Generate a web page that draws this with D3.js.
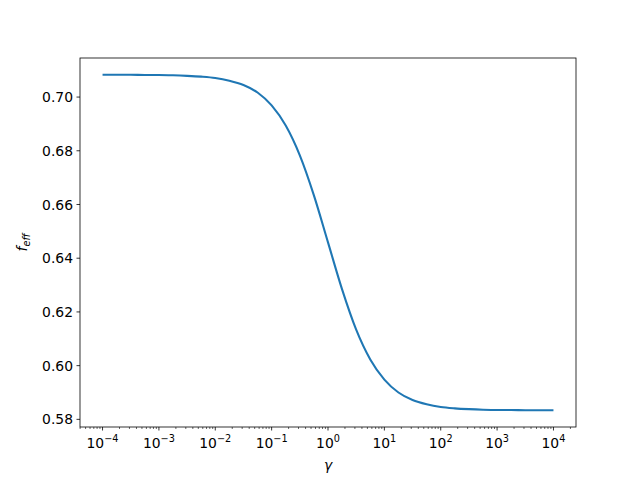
<!DOCTYPE html>
<html>
<head>
<meta charset="utf-8">
<script src="https://cdn.jsdelivr.net/npm/d3@7"></script>
<style>
  body { margin: 0; background: #fff; }
  text { font-family: "DejaVu Sans", sans-serif; }
</style>
</head>
<body>
<svg id="chart" width="640" height="480"></svg>
<script>
// gamma values (log spaced, every quarter decade from 1e-4 to 1e4)
const gammaValues = [
  1e-4, 1.778e-4, 3.162e-4, 5.623e-4,
  1e-3, 1.778e-3, 3.162e-3, 5.623e-3,
  1e-2, 1.778e-2, 3.162e-2, 5.623e-2,
  1e-1, 1.778e-1, 3.162e-1, 5.623e-1,
  1e0, 1.778e0, 3.162e0, 5.623e0,
  1e1, 1.778e1, 3.162e1, 5.623e1,
  1e2, 1.778e2, 3.162e2, 5.623e2,
  1e3, 1.778e3, 3.162e3, 5.623e3,
  1e4
];
// f_eff values
const fEffValues = [
  0.7083, 0.7083, 0.7083, 0.7082,
  0.7082, 0.7081, 0.7079, 0.7076,
  0.7071, 0.7061, 0.7045, 0.7017,
  0.6969, 0.6894, 0.6783, 0.6634,
  0.6459, 0.6284, 0.6134, 0.6023,
  0.5948, 0.5900, 0.5872, 0.5856,
  0.5846, 0.5841, 0.5838, 0.5836,
  0.5835, 0.5835, 0.5834, 0.5834,
  0.5834
];
const xTickExponents = [-4, -3, -2, -1, 0, 1, 2, 3, 4];
const yTickValues = [0.58, 0.60, 0.62, 0.64, 0.66, 0.68, 0.70];

const svg = d3.select("#chart");
const margin = { left: 80, right: 64, top: 58, bottom: 53 };
const W = 640, H = 480;
const plotW = W - margin.left - margin.right;
const plotH = H - margin.top - margin.bottom;

// matplotlib-like 5% margins
const lx = gammaValues.map(v => Math.log10(v));
const lxMin = d3.min(lx), lxMax = d3.max(lx);
const lpad = (lxMax - lxMin) * 0.05;
const x = d3.scaleLog()
  .domain([Math.pow(10, lxMin - lpad), Math.pow(10, lxMax + lpad)])
  .range([margin.left, margin.left + plotW]);

const yMin = d3.min(fEffValues), yMax = d3.max(fEffValues);
const ypad = (yMax - yMin) * 0.05;
const y = d3.scaleLinear()
  .domain([yMin - ypad, yMax + ypad])
  .range([margin.top + plotH, margin.top]);

const fontSize = 13.9;

// line
const data = gammaValues.map((g, i) => ({ g, f: fEffValues[i] }));
svg.append("path")
  .datum(data)
  .attr("fill", "none")
  .attr("stroke", "#1f77b4")
  .attr("stroke-width", 2.08)
  .attr("stroke-linejoin", "round")
  .attr("stroke-linecap", "butt")
  .attr("d", d3.line().x(d => x(d.g)).y(d => y(d.f)).curve(d3.curveMonotoneX));

// x axis
const xAxisG = svg.append("g").attr("transform", `translate(0,${margin.top + plotH})`);
const minorTicks = [];
for (let e = -5; e <= 4; e++) {
  for (let m = 2; m <= 9; m++) {
    const v = m * Math.pow(10, e);
    if (v >= x.domain()[0] && v <= x.domain()[1]) minorTicks.push(v);
  }
}
xAxisG.selectAll("line.minor").data(minorTicks).enter().append("line")
  .attr("x1", d => x(d)).attr("x2", d => x(d))
  .attr("y1", 0).attr("y2", 2)
  .attr("stroke", "#000").attr("stroke-width", 0.6);
const majorX = xTickExponents.map(e => Math.pow(10, e));
xAxisG.selectAll("line.major").data(majorX).enter().append("line")
  .attr("x1", d => x(d)).attr("x2", d => x(d))
  .attr("y1", 0).attr("y2", 3.5)
  .attr("stroke", "#000").attr("stroke-width", 0.8);
const xl = xAxisG.selectAll("text.tick").data(xTickExponents).enter().append("text")
  .attr("x", e => x(Math.pow(10, e)))
  .attr("y", 20.5)
  .attr("text-anchor", "middle")
  .attr("font-size", fontSize)
  .attr("fill", "#000");
xl.append("tspan").text("10");
xl.append("tspan").attr("dy", -6).attr("font-size", fontSize * 0.7)
  .text(e => (e < 0 ? "\u2212" : "") + Math.abs(e));

// y axis
const yAxisG = svg.append("g");
yAxisG.selectAll("line").data(yTickValues).enter().append("line")
  .attr("x1", margin.left - 3.5).attr("x2", margin.left)
  .attr("y1", d => y(d)).attr("y2", d => y(d))
  .attr("stroke", "#000").attr("stroke-width", 0.8);
yAxisG.selectAll("text").data(yTickValues).enter().append("text")
  .attr("x", margin.left - 7)
  .attr("y", d => y(d))
  .attr("dy", "0.36em")
  .attr("text-anchor", "end")
  .attr("font-size", fontSize)
  .attr("fill", "#000")
  .text(d => d.toFixed(2));

// frame
svg.append("rect")
  .attr("x", margin.left).attr("y", margin.top)
  .attr("width", plotW).attr("height", plotH)
  .attr("fill", "none").attr("stroke", "#000").attr("stroke-width", 0.8);

// x label
svg.append("text")
  .attr("x", margin.left + plotW / 2)
  .attr("y", 470)
  .attr("text-anchor", "middle")
  .attr("font-size", fontSize)
  .attr("font-style", "italic")
  .text("\u03b3");

// y label
const yl = svg.append("text")
  .attr("transform", `translate(27,${margin.top + plotH / 2}) rotate(-90)`)
  .attr("text-anchor", "middle")
  .attr("font-size", fontSize)
  .attr("font-style", "italic");
yl.append("tspan").text("f");
yl.append("tspan").attr("dy", 3).attr("font-size", fontSize * 0.7).text("eff");
</script>
</body>
</html>
